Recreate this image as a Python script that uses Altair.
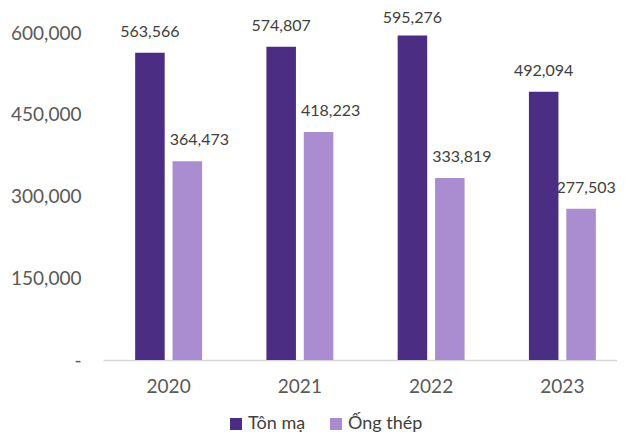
import altair as alt
import pandas as pd

years = ["2020", "2021", "2022", "2023"]
ton_ma = [563566, 574807, 595276, 492094]
ong_thep = [364473, 418223, 333819, 277503]
series = ["Tôn mạ", "Ống thép"]
colors = ["#4B2D83", "#AA8DD0"]
y_ticks = [0, 150000, 300000, 450000, 600000]

rows = []
for i, y in enumerate(years):
    rows.append({"year": y, "series": series[0], "value": ton_ma[i]})
    rows.append({"year": y, "series": series[1], "value": ong_thep[i]})
df = pd.DataFrame(rows)

FONT = "Lato"

x_enc = alt.X("year:N", sort=years,
              scale=alt.Scale(paddingInner=0.49, paddingOuter=0.245, range=[0, 525]),
              axis=alt.Axis(title=None, labelAngle=0, ticks=False, domainColor="#D9D9D9",
                            domainWidth=1.5, labelFontSize=19, labelColor="#595959",
                            labelFont=FONT, labelPadding=17))
xoff = alt.XOffset("series:N", sort=series,
                   scale=alt.Scale(paddingInner=0.21, paddingOuter=0))
y_scale = alt.Scale(domain=[0, 600000], nice=False)
y_enc = alt.Y("value:Q", scale=y_scale,
              axis=alt.Axis(title=None, values=y_ticks, ticks=False, domain=False, grid=False,
                            labelFontSize=19, labelColor="#595959", labelFont=FONT,
                            labelPadding=22,
                            labelExpr="datum.value == 0 ? '-\u00a0\u00a0' : format(datum.value, ',')"))

bars = alt.Chart(df).mark_bar().encode(
    x=x_enc, xOffset=xoff, y=y_enc,
    color=alt.Color("series:N", sort=series,
                    scale=alt.Scale(domain=series, range=colors),
                    legend=alt.Legend(title=None, orient="none", direction="horizontal",
                                      legendX=124, legendY=382, symbolType="square",
                                      symbolSize=144, symbolStrokeWidth=0,
                                      labelFontSize=18, labelColor="#404040", labelFont=FONT,
                                      columnPadding=21, labelOffset=3))
)

label_base = alt.Chart(df).transform_calculate(
    labelV="min(datum.value, 589000)"
)
text_kw = dict(baseline="bottom", dy=-13, fontSize=16, color="#404040", font=FONT)
label_enc = dict(x=x_enc, xOffset=xoff, y=alt.Y("labelV:Q", scale=y_scale),
                 text=alt.Text("value:Q", format=","))

labels_dark = label_base.transform_filter(
    alt.datum.series == series[0]
).mark_text(**text_kw).encode(**label_enc)
labels_light = label_base.transform_filter(
    (alt.datum.series == series[1]) & (alt.datum.year != years[-1])
).mark_text(dx=12, **text_kw).encode(**label_enc)
labels_light_last = label_base.transform_filter(
    (alt.datum.series == series[1]) & (alt.datum.year == years[-1])
).mark_text(dx=5, **text_kw).encode(**label_enc)

chart = (bars + labels_dark + labels_light + labels_light_last).properties(
    width=514, height=327,
    autosize=alt.AutoSizeParams(type="none"),
    padding={"left": 95, "top": 25, "right": 0, "bottom": 75},
).configure_view(stroke=None)

chart.save("out.html", embed_options={"renderer": "svg", "actions": False})
